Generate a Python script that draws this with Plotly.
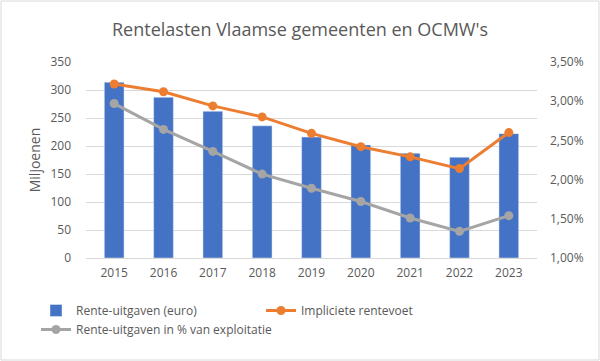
import plotly.graph_objects as go

years = ["2015", "2016", "2017", "2018", "2019", "2020", "2021", "2022", "2023"]
rente_uitgaven = [314, 287, 262, 236, 216, 202, 187, 180, 222]
impliciete_rentevoet = [0.0322, 0.0312, 0.0294, 0.0280, 0.0259, 0.0242, 0.0229, 0.0214, 0.0260]
pct_exploitatie = [0.0297, 0.0264, 0.0236, 0.0207, 0.0189, 0.0172, 0.0151, 0.0134, 0.0154]

txt = "#595959"
font = "Open Sans"

fig = go.Figure()
fig.add_trace(go.Bar(x=years, y=rente_uitgaven, name="Rente-uitgaven (euro)",
                     marker_color="#4472C4", yaxis="y"))
fig.add_trace(go.Scatter(x=years, y=impliciete_rentevoet, name="Impliciete rentevoet",
                         mode="lines+markers", line=dict(color="#ED7D31", width=3),
                         marker=dict(size=9, color="#ED7D31"), yaxis="y2"))
fig.add_trace(go.Scatter(x=years, y=pct_exploitatie, name="Rente-uitgaven in % van exploitatie",
                         mode="lines+markers", line=dict(color="#A5A5A5", width=3),
                         marker=dict(size=9, color="#A5A5A5"), yaxis="y2"))

L, R, T, B = 86, 63, 62, 103
pw = 600 - L - R
ph = 361 - T - B

fig.update_layout(
    width=600, height=361,
    margin=dict(l=L, r=R, t=T, b=B, autoexpand=False),
    paper_bgcolor="white", plot_bgcolor="white",
    separators=",.",
    font=dict(family=font, color=txt, size=12),
    title=dict(text="Rentelasten Vlaamse gemeenten en OCMW's", x=0.5, xanchor="center",
               y=1 - 30 / 361, yanchor="middle", font=dict(size=18, color=txt, family=font)),
    bargap=0.6,
    xaxis=dict(showgrid=False, showline=True, linecolor="#d9d9d9", ticks="",
               tickfont=dict(size=12, color=txt), automargin=False, ticklabelstandoff=4),
    yaxis=dict(range=[0, 350], dtick=50, showgrid=True, gridcolor="#d9d9d9",
               zeroline=False, tickfont=dict(size=12, color=txt), automargin=False,
               ticklabelstandoff=14,
               title=dict(text="Miljoenen", font=dict(size=14, color=txt), standoff=6)),
    yaxis2=dict(range=[0.01, 0.035], dtick=0.005, tickformat=".2%", overlaying="y",
                side="right", showgrid=False, zeroline=False, automargin=False,
                ticklabelstandoff=12, tickfont=dict(size=12, color=txt)),
    legend=dict(orientation="h", x=(36 - L) / pw, xanchor="left", y=-(296 - 258) / ph, yanchor="top",
                entrywidth=180, entrywidthmode="pixels", traceorder="normal",
                font=dict(size=12, color=txt), itemwidth=30),
    showlegend=True,
    shapes=[dict(type="rect", xref="paper", yref="paper",
                 x0=-(L - 1) / pw, x1=1 + (R - 1) / pw,
                 y0=-(B - 1) / ph, y1=1 + (T - 1) / ph,
                 line=dict(color="#d9d9d9", width=1), layer="below")],
)

fig.write_html("out.html", config={"displayModeBar": False},
               post_script="document.body.style.margin='0';")
